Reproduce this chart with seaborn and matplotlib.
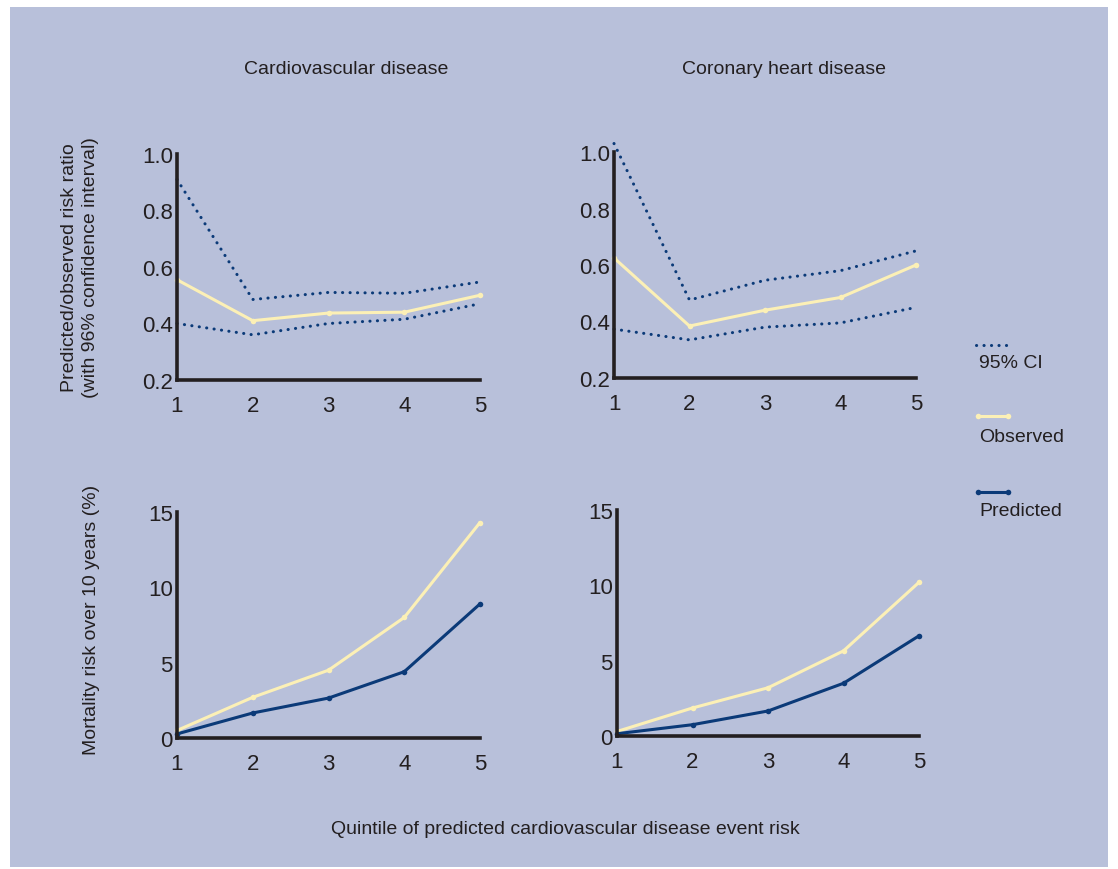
import matplotlib
matplotlib.use('Agg')
import matplotlib.pyplot as plt
import seaborn as sns
from matplotlib.lines import Line2D
from matplotlib.patches import Rectangle

sns.set_theme(style="white")
plt.rcParams['font.family'] = ['Liberation Sans', 'DejaVu Sans']

# データ
quintiles = [1, 2, 3, 4, 5]
titles = ['Cardiovascular disease', 'Coronary heart disease']

cvd_ratio_obs = [0.555, 0.41, 0.437, 0.44, 0.50]
cvd_ratio_hi = [0.91, 0.485, 0.51, 0.507, 0.547]
cvd_ratio_lo = [0.40, 0.36, 0.40, 0.415, 0.47]

chd_ratio_obs = [0.625, 0.384, 0.44, 0.485, 0.60]
chd_ratio_hi = [1.03, 0.476, 0.546, 0.58, 0.65]
chd_ratio_lo = [0.373, 0.335, 0.38, 0.395, 0.45]

cvd_obs = [0.5, 2.7, 4.5, 8.0, 14.3]
cvd_pred = [0.27, 1.66, 2.65, 4.4, 8.9]
chd_obs = [0.3, 1.86, 3.2, 5.65, 10.2]
chd_pred = [0.15, 0.75, 1.66, 3.5, 6.65]

ratio_ticks = [0.2, 0.4, 0.6, 0.8, 1.0]
risk_ticks = [0, 5, 10, 15]

BG = '#b8c0da'
OBS = '#fcf0b6'
PRED = '#0b3a78'
INK = '#231f20'
DOTS = (0, (0.05, 2.4))

fig = plt.figure(figsize=(11.18, 8.70), dpi=100)
fig.patch.set_facecolor('white')
fig.add_artist(Rectangle((10 / 1118, 1 - 868 / 870), 1098 / 1118, 860 / 870,
                         transform=fig.transFigure, facecolor=BG,
                         edgecolor='none', zorder=-10))


def fx(x):
    return x / 1118


def fy(y):
    return 1 - y / 870


pos = {
    (0, 0): [fx(177), fy(381), 303 / 1118, 226 / 870],
    (0, 1): [fx(614), fy(379), 302 / 1118, 226 / 870],
    (1, 0): [fx(177), fy(739), 303 / 1118, 226 / 870],
    (1, 1): [fx(617), fy(737), 302 / 1118, 226 / 870],
}


def style_axes(ax, yticks, labels):
    ax.set_facecolor('none')
    ax.set_xlim(1, 5)
    ax.set_ylim(yticks[0], yticks[-1])
    ax.set_xticks(quintiles)
    ax.set_yticks(yticks)
    ax.set_yticklabels(labels)
    for s in ['top', 'right']:
        ax.spines[s].set_visible(False)
    for s in ['left', 'bottom']:
        ax.spines[s].set_linewidth(2.6)
        ax.spines[s].set_color(INK)
    ax.tick_params(axis='both', length=0, labelsize=16, colors=INK)
    ax.tick_params(axis='x', pad=11)
    ax.tick_params(axis='y', pad=3)
    ax.set_xlabel('')
    ax.set_ylabel('')


ratio_sets = [(cvd_ratio_obs, cvd_ratio_hi, cvd_ratio_lo),
              (chd_ratio_obs, chd_ratio_hi, chd_ratio_lo)]
risk_sets = [(cvd_obs, cvd_pred), (chd_obs, chd_pred)]

for j in range(2):
    ax = fig.add_axes(pos[(0, j)])
    obs, hi, lo = ratio_sets[j]
    for ci in (hi, lo):
        sns.lineplot(x=quintiles, y=ci, ax=ax, color=PRED, linewidth=2.2,
                     linestyle=DOTS, dash_capstyle='round', clip_on=False)
    sns.lineplot(x=quintiles, y=obs, ax=ax, color=OBS, linewidth=2.2,
                 marker='o', markersize=4, markeredgewidth=0, clip_on=False)
    style_axes(ax, ratio_ticks, [f'{t:.1f}' for t in ratio_ticks])

    ax = fig.add_axes(pos[(1, j)])
    obs, pred = risk_sets[j]
    sns.lineplot(x=quintiles, y=obs, ax=ax, color=OBS, linewidth=2.2,
                 marker='o', markersize=4, markeredgewidth=0, clip_on=False)
    sns.lineplot(x=quintiles, y=pred, ax=ax, color=PRED, linewidth=2.2,
                 marker='o', markersize=4, markeredgewidth=0, clip_on=False)
    style_axes(ax, risk_ticks, [str(t) for t in risk_ticks])

# タイトルとラベル
fig.text(fx(346), fy(70), titles[0], ha='center', va='center', fontsize=14, color=INK)
fig.text(fx(784), fy(70), titles[1], ha='center', va='center', fontsize=14, color=INK)
fig.text(fx(80), fy(268),
         'Predicted/observed risk ratio\n(with 96% confidence interval)',
         rotation=90, ha='center', va='center', fontsize=14, color=INK, linespacing=1.3)
fig.text(fx(92), fy(620), 'Mortality risk over 10 years (%)',
         rotation=90, ha='center', va='center', fontsize=14, color=INK)
fig.text(fx(565), fy(830),
         'Quintile of predicted cardiovascular disease event risk',
         ha='center', va='center', fontsize=14, color=INK)

# 凡例
fig.add_artist(Line2D([fx(976), fx(1009)], [fy(346), fy(346)], transform=fig.transFigure,
                      color=PRED, linewidth=2.2, linestyle=DOTS,
                      dash_capstyle='round'))
fig.add_artist(Line2D([fx(978), fx(1008)], [fy(417), fy(417)], transform=fig.transFigure,
                      color=OBS, linewidth=2.2, marker='o', markersize=4,
                      markeredgewidth=0))
fig.add_artist(Line2D([fx(978), fx(1008)], [fy(493), fy(493)], transform=fig.transFigure,
                      color=PRED, linewidth=2.2, marker='o', markersize=4,
                      markeredgewidth=0))
for y, label in [(364, '95% CI'), (438, 'Observed'), (511, 'Predicted')]:
    fig.text(fx(979), fy(y), label, ha='left', va='center', fontsize=14, color=INK)

fig.savefig('out.png', dpi=100, facecolor=fig.get_facecolor())
